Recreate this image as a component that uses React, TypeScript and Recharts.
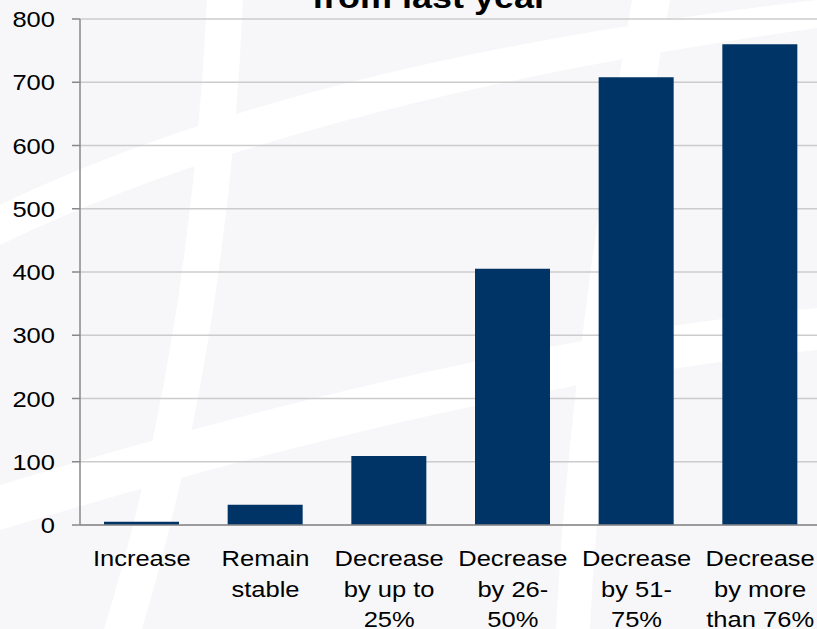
import React from 'react'
import { BarChart, Bar, XAxis, YAxis, CartesianGrid } from 'recharts'

const categories = [
    'Increase',
    'Remain stable',
    'Decrease by up to 25%',
    'Decrease by 26-50%',
    'Decrease by 51-75%',
    'Decrease by more than 76%',
]
const categoryLines = [
    ['Increase'],
    ['Remain', 'stable'],
    ['Decrease', 'by up to', '25%'],
    ['Decrease', 'by 26-', '50%'],
    ['Decrease', 'by 51-', '75%'],
    ['Decrease', 'by more', 'than 76%'],
]
const counts = [5, 32, 109, 405, 708, 760]
const yTicks = [0, 100, 200, 300, 400, 500, 600, 700, 800]

const data = categories.map((name, i) => ({ name, value: counts[i] }))

const FONT = 'Liberation Sans, Arial, sans-serif'
const STRETCH = 1.16

const XTick = (props: any) => {
    const { x, y, payload } = props
    const lines = categoryLines[payload.index] || [payload.value]
    return (
        <g transform={`translate(${x},${y}) scale(${STRETCH},1)`}>
            <text textAnchor="middle" fontFamily={FONT} fontSize={22} fill="#000">
                {lines.map((l: string, i: number) => (
                    <tspan key={i} x={0} y={41 + i * 30.7}>{l}</tspan>
                ))}
            </text>
        </g>
    )
}

const YTick = (props: any) => {
    const { y, payload } = props
    return (
        <g transform={`translate(55,${y}) scale(${STRETCH},1)`}>
            <text x={0} y={8} textAnchor="end" fontFamily={FONT} fontSize={22} fill="#000">
                {payload.value}
            </text>
        </g>
    )
}

export default function App() {
    return (
        <div style={{ position: 'absolute', left: 0, top: 0, width: 817, height: 629, overflow: 'hidden', background: '#f7f7fa' }}>
            {/* faint watermark behind the chart */}
            <svg width={817} height={629} style={{ position: 'absolute', left: 0, top: 0 }}>
                <path d="M0,205 Q300,60 817,0 L817,28 Q300,100 0,245 Z" fill="#fff" />
                <path d="M0,485 Q480,340 817,308 L817,350 Q480,385 0,530 Z" fill="#fff" />
                <path d="M207,0 L243,0 Q228,340 142,629 L104,629 Q190,350 207,0 Z" fill="#fff" />
                <path d="M632,0 L670,0 Q602,380 590,629 L556,629 Q568,380 632,0 Z" fill="#fff" />
            </svg>
            <div style={{ position: 'absolute', left: 0, top: 0 }}>
                <BarChart width={822} height={629} data={data} margin={{ top: 19, right: 0, bottom: 0, left: 0 }}>
                    <CartesianGrid vertical={false} stroke="#cccccc" strokeWidth={1.5} />
                    <XAxis
                        dataKey="name"
                        height={104}
                        axisLine={{ stroke: '#888', strokeWidth: 1.5 }}
                        tickLine={false}
                        tickSize={0}
                        tickMargin={0}
                        interval={0}
                        tick={<XTick />}
                    />
                    <YAxis
                        width={80}
                        domain={[0, 800]}
                        ticks={yTicks}
                        axisLine={{ stroke: '#888', strokeWidth: 1.5 }}
                        tickLine={{ stroke: '#888', strokeWidth: 1.5 }}
                        tickSize={8}
                        tick={<YTick />}
                    />
                    <Bar dataKey="value" fill="#003366" barSize={75} isAnimationActive={false} />
                </BarChart>
            </div>
            <svg width={817} height={40} style={{ position: 'absolute', left: 0, top: 0 }}>
                <g transform={`translate(430,8) scale(${STRETCH},1)`}>
                    <text textAnchor="middle" fontFamily={FONT} fontSize={31} fontWeight="bold" fill="#000">from last year</text>
                </g>
            </svg>
        </div>
    )
}
